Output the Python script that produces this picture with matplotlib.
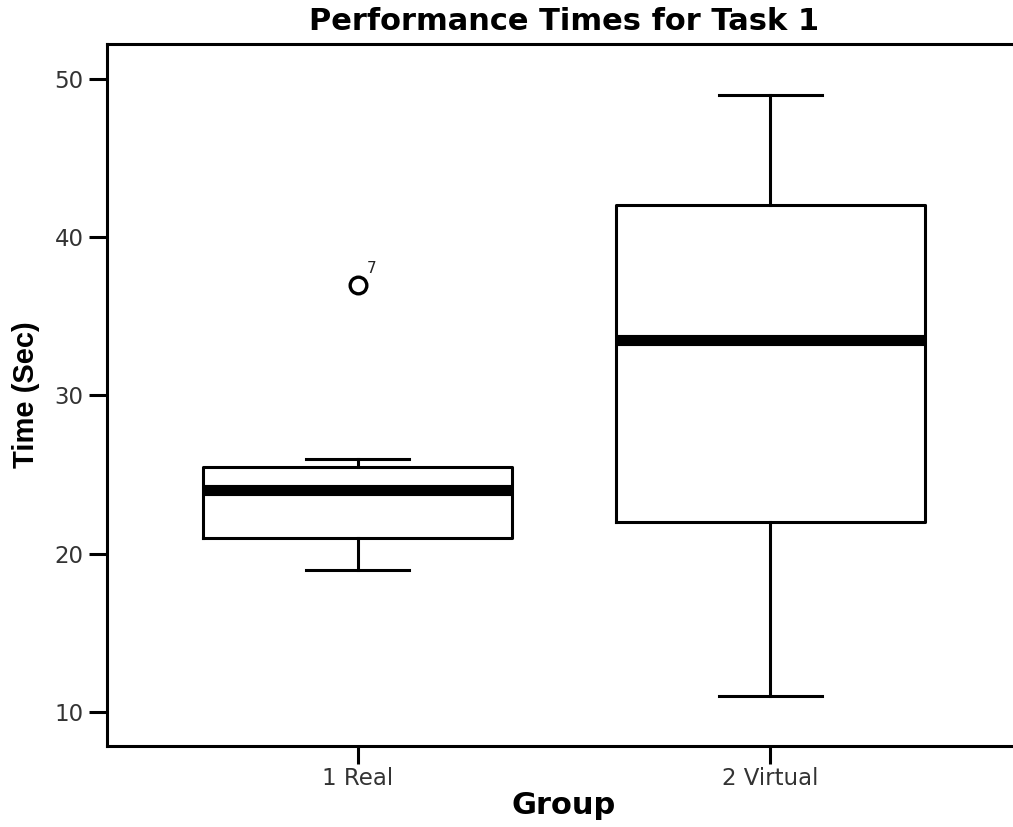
import matplotlib.pyplot as plt

# Group summaries (seconds)
groups = ['1 Real', '2 Virtual']
whisker_low = [19, 11]
q1 = [21, 22]
median = [24, 33.5]
q3 = [25.5, 42]
whisker_high = [26, 49]
outliers = [[37], []]
outlier_ids = [['7'], []]

# wide face for horizontal text, Arial-like face for the rotated y label
plt.rcParams['font.family'] = ['DejaVu Sans']

fig = plt.figure(figsize=(10.13, 8.27), dpi=100)
# axes run a little past the right edge of the figure
ax = fig.add_axes([107 / 1013, 1 - 746 / 827, (1021 - 107) / 1013, (746 - 44) / 827])

stats = []
for i, g in enumerate(groups):
    stats.append({'label': g, 'whislo': whisker_low[i], 'q1': q1[i], 'med': median[i],
                  'q3': q3[i], 'whishi': whisker_high[i], 'fliers': outliers[i]})

positions = list(range(1, len(groups) + 1))
ax.bxp(stats, positions=positions, widths=0.75, showfliers=True,
       boxprops=dict(color='black', linewidth=2.2),
       medianprops=dict(color='black', linewidth=8, solid_capstyle='butt'),
       whiskerprops=dict(color='black', linewidth=2.2),
       capprops=dict(color='black', linewidth=2.2),
       capwidths=0.25,
       flierprops=dict(marker='o', markersize=12, markerfacecolor='white',
                       markeredgecolor='black', markeredgewidth=2.4))

# case numbers next to outliers
for pos, vals, ids in zip(positions, outliers, outlier_ids):
    for v, lab in zip(vals, ids):
        ax.annotate(lab, (pos, v), xytext=(6, 6), textcoords='offset points',
                    fontsize=11, color='#222222', ha='left', va='bottom')

ax.set_xlim(0.391, 2.609)
ax.set_ylim(7.85, 52.2)
ax.set_yticks([10, 20, 30, 40, 50])
ax.set_xticks(positions)
ax.set_xticklabels(groups)

for side in ['left', 'bottom', 'top', 'right']:
    ax.spines[side].set_linewidth(2.2)

ax.tick_params(axis='both', length=13, width=2.2, labelsize=16.5, labelcolor='#333333', pad=4)
ax.tick_params(axis='x', pad=2)

ax.set_title('Performance Times for Task 1', fontsize=22, fontweight='bold', pad=10)
ax.set_xlabel('Group', fontsize=22, fontweight='bold', labelpad=1)
ax.set_ylabel('Time (Sec)', fontsize=21, fontweight='bold',
              family=['Liberation Sans', 'DejaVu Sans'], labelpad=10)

fig.savefig('out.png', dpi=100)
